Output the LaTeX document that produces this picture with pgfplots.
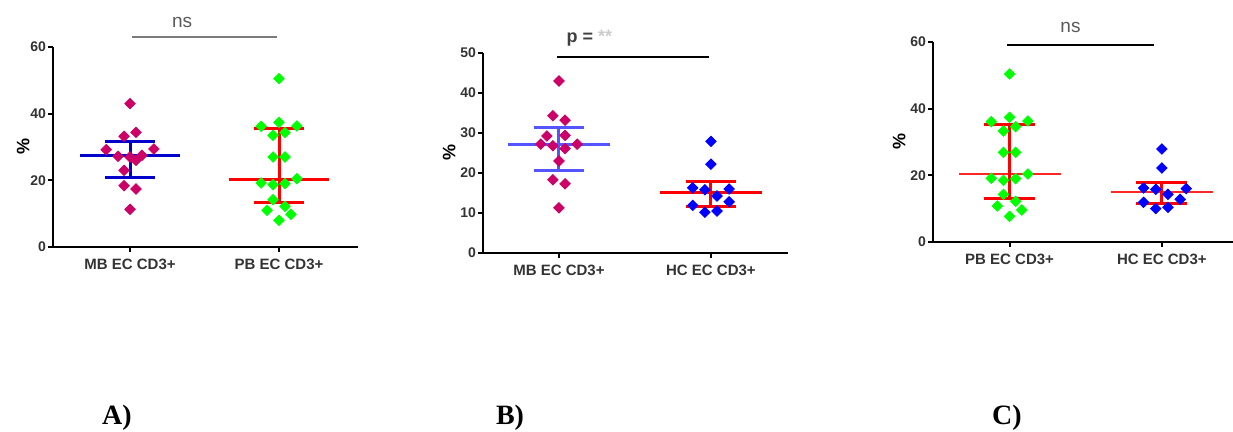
\documentclass[border=0pt]{standalone}
\usepackage{pgfplots}
\pgfplotsset{compat=1.18}
\usepackage{fontspec}
\setmainfont{Liberation Sans}
\newfontfamily\serifb{Liberation Serif}

\definecolor{mbcol}{RGB}{204,0,102}
\definecolor{pbcol}{RGB}{0,255,0}
\definecolor{hccol}{RGB}{0,0,255}
\definecolor{darkblue}{RGB}{0,0,205}
\definecolor{lightblue}{RGB}{85,85,255}
\definecolor{annot}{RGB}{90,90,90}

\pgfplotsset{
  panel/.style={
    scale only axis, width=152.5pt, height=100pt,
    axis x line*=bottom, axis y line*=left,
    axis line style={line width=1pt, -},
    tick style={line width=1pt, black},
    major tick length=2.5pt, tick align=outside,
    xtick={0,1}, ymin=0, clip=false,
    ticklabel style={font=\bfseries\fontsize{7}{8}\selectfont, text=black!80},
    xticklabel style={font=\bfseries\fontsize{7.5}{8}\selectfont},
    yticklabel style={xshift=2.5pt},
    /pgf/number format/assume math mode=true,
    ylabel={\%}, ylabel style={font=\bfseries\fontsize{9}{10}\selectfont, yshift=-4.5pt},
  },
  pts/.style={only marks, mark=square*, mark size=1.85pt, mark options={rotate=45, draw=#1, fill=#1}},
  bar/.style={#1, line width=1.5pt, mark=none},
}

\begin{document}
\begin{tikzpicture}
\path[use as bounding box] (0,0) rectangle (616.5pt,216pt);

% ---------- A ----------
\begin{axis}[panel, at={(26.5pt,92.5pt)}, anchor=south west,
  xmin=-0.517, xmax=1.53, ymax=60, ytick={0,20,40,60},
  xticklabels={MB EC CD3+, PB EC CD3+}, ylabel style={yshift=-2pt}]
\addplot[pts=mbcol] coordinates {
  (0,43) (-0.04,33.2) (0.04,34.4) (-0.16,29.2) (0.16,29.4) (-0.08,27.2)
  (0,27) (0.04,26) (0.08,27.5) (-0.04,23) (-0.04,18.4) (0.04,17.4) (0,11.3)};
\addplot[pts=pbcol] coordinates {
  (1,50.5) (1,37.4) (0.88,36.2) (1.12,36.3) (0.96,33.5) (1.04,34.3)
  (0.96,27) (1.04,27) (1.12,20.5) (0.88,19.2) (0.96,18.7) (1.04,19)
  (0.96,14.2) (1.04,12.2) (0.92,11) (1.08,9.8) (1,8)};
% mean and error bars
\addplot[bar=darkblue] coordinates {(-0.335,27.3) (0.335,27.3)};
\addplot[bar=darkblue] coordinates {(0,20.8) (0,31.5)};
\addplot[bar=darkblue] coordinates {(-0.167,20.8) (0.167,20.8)};
\addplot[bar=darkblue] coordinates {(-0.167,31.5) (0.167,31.5)};
\addplot[bar=red] coordinates {(0.665,20.3) (1.335,20.3)};
\addplot[bar=red] coordinates {(1,13.2) (1,35.4)};
\addplot[bar=red] coordinates {(0.833,13.2) (1.167,13.2)};
\addplot[bar=red] coordinates {(0.833,35.4) (1.167,35.4)};
% significance bracket
\addplot[annot!80, line width=0.6pt, mark=none] coordinates {(0.013,63) (0.987,63)};
\node[font=\fontsize{9.5}{10}\selectfont, text=annot] at (axis cs:0.35,67.3) {ns};
\end{axis}

% ---------- B ----------
\begin{axis}[panel, at={(241.5pt,89.5pt)}, anchor=south west,
  xmin=-0.5, xmax=1.507, ymax=50, ytick={0,10,20,30,40,50},
  xticklabels={MB EC CD3+, HC EC CD3+}]
\addplot[pts=mbcol] coordinates {
  (0,43) (-0.04,34.3) (0.04,33.2) (-0.08,29.25) (0.04,29.4) (-0.12,27.2)
  (-0.04,26.8) (0.04,26.1) (0.12,27.2) (0,23) (-0.04,18.3) (0.04,17.3) (0,11.3)};
\addplot[pts=hccol] coordinates {
  (1,27.9) (1,22.2) (0.88,16.3) (0.96,15.8) (1.12,16) (1.04,14.25)
  (0.88,11.9) (1.12,12.8) (0.96,10.2) (1.04,10.5)};
\addplot[bar=lightblue] coordinates {(-0.335,27.2) (0.335,27.2)};
\addplot[bar=lightblue] coordinates {(0,20.7) (0,31.3)};
\addplot[bar=lightblue] coordinates {(-0.167,20.7) (0.167,20.7)};
\addplot[bar=lightblue] coordinates {(-0.167,31.3) (0.167,31.3)};
\addplot[bar=red] coordinates {(0.665,15) (1.335,15)};
\addplot[bar=red] coordinates {(1,11.5) (1,17.9)};
\addplot[bar=red] coordinates {(0.833,11.5) (1.167,11.5)};
\addplot[bar=red] coordinates {(0.833,17.9) (1.167,17.9)};
\addplot[black, line width=0.6pt, mark=none] coordinates {(-0.013,49) (0.99,49)};
\node[font=\bfseries\fontsize{9}{10}\selectfont, text=black!75] at (axis cs:0.2,53.7) {p = \textcolor{black!20}{**}};
\end{axis}

% ---------- C ----------
\begin{axis}[panel, at={(466.5pt,95pt)}, anchor=south west,
  xmin=-0.503, xmax=1.5, ymax=60, ytick={0,20,40,60},
  xticklabels={PB EC CD3+, HC EC CD3+}]
\addplot[pts=pbcol] coordinates {
  (0,50.4) (0,37.4) (-0.12,36.1) (0.12,36.3) (-0.04,33.3) (0.04,34.6)
  (-0.04,26.9) (0.04,26.9) (0.12,20.4) (-0.12,19.1) (-0.04,18.5) (0.04,19)
  (-0.04,14.3) (0.04,12.2) (-0.08,10.8) (0.08,9.6) (0,7.7)};
\addplot[pts=hccol] coordinates {
  (1,27.9) (1,22.2) (0.88,16.2) (0.96,15.8) (1.16,16) (1.04,14.3)
  (0.88,11.9) (1.12,12.8) (0.96,10) (1.04,10.4)};
\addplot[bar=red!85, line width=1pt] coordinates {(-0.335,20.3) (0.335,20.3)};
\addplot[bar=red] coordinates {(0,13) (0,35.3)};
\addplot[bar=red] coordinates {(-0.167,13) (0.167,13)};
\addplot[bar=red] coordinates {(-0.167,35.3) (0.167,35.3)};
\addplot[bar=red!85, line width=1pt] coordinates {(0.665,15) (1.335,15)};
\addplot[bar=red] coordinates {(1,11.5) (1,17.8)};
\addplot[bar=red] coordinates {(0.833,11.5) (1.167,11.5)};
\addplot[bar=red] coordinates {(0.833,17.8) (1.167,17.8)};
\addplot[black, line width=0.6pt, mark=none] coordinates {(-0.02,59.1) (0.95,59.1)};
\node[font=\fontsize{9.5}{10}\selectfont, text=annot] at (axis cs:0.4,64.3) {ns};
\end{axis}

% panel letters
\node[font=\serifb\bfseries\fontsize{14}{16}\selectfont] at (58.5pt,7pt) {A)};
\node[font=\serifb\bfseries\fontsize{14}{16}\selectfont] at (255pt,7pt) {B)};
\node[font=\serifb\bfseries\fontsize{14}{16}\selectfont] at (503.5pt,7pt) {C)};
\end{tikzpicture}
\end{document}
